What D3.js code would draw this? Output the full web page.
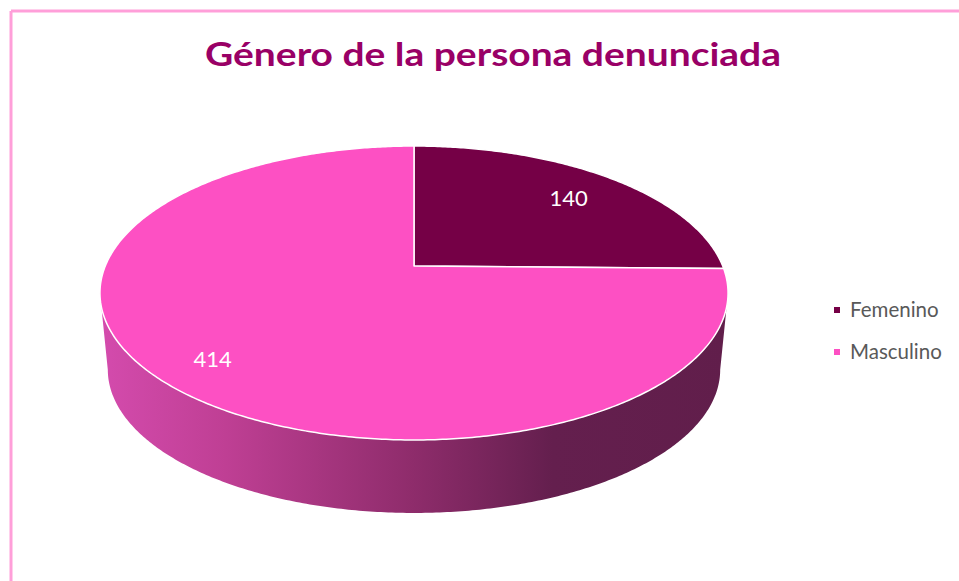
<!DOCTYPE html>
<html><head><meta charset="utf-8">
<script src="https://cdn.jsdelivr.net/npm/d3@7"></script>
<style>html,body{margin:0;padding:0;background:#fff;}svg{display:block;}</style>
</head><body>
<svg id="c" width="959" height="581"></svg>
<script>
const title = "Género de la persona denunciada";
const categories = ["Femenino", "Masculino"];
const values = [140, 414];
const colors = ["#750046", "#fd50c3"];

const svg = d3.select("#c");
const W = 959, H = 581;

// chart frame (only top and left edges visible)
svg.append("line").attr("x1", 11).attr("y1", 11).attr("x2", W).attr("y2", 11)
  .attr("stroke", "#ff9fd9").attr("stroke-width", 3);
svg.append("line").attr("x1", 11).attr("y1", 11).attr("x2", 11).attr("y2", H)
  .attr("stroke", "#ff9fd9").attr("stroke-width", 3);

// title
const t = svg.append("text").attr("x", 493).attr("y", 66).attr("text-anchor", "middle")
  .attr("font-family", "Lato, 'Open Sans', sans-serif").attr("font-weight", "bold")
  .attr("font-size", 33).attr("fill", "#990066").text(title);
const tw = t.node().getComputedTextLength();
if (Math.abs(tw - 576) > 6) t.attr("textLength", 576).attr("lengthAdjust", "spacingAndGlyphs");

// perspective projection of a tilted disk
const cx = 414, cy = 266, A = 308.7, B = 142, k = 0.1837, depth = 73, shrink = 0.975;
function proj(angle, r, level) {
  const u = r * Math.sin(angle), v = r * Math.cos(angle);
  const a = level ? A * shrink : A, b = level ? B * shrink : B;
  const yc = level ? cy + depth + (B - B * shrink) / (1 - k) : cy;
  const d = 1 + k * v;
  return [cx + a * u / d, yc - b * v / d];
}

const pie = d3.pie().sort(null).value(d => d)(values);

function arcPts(a0, a1, r, level) {
  const n = Math.max(2, Math.ceil(Math.abs(a1 - a0) / 0.01));
  return d3.range(n + 1).map(i => proj(a0 + (a1 - a0) * i / n, r, level));
}
const line = d3.line();

// side wall: visible front part between the two widest points
const vAng = Math.acos(-k);
const sideStart = vAng, sideEnd = 2 * Math.PI - vAng;
const defs = svg.append("defs");
const grad = defs.append("linearGradient").attr("id", "sideGrad")
  .attr("gradientUnits", "userSpaceOnUse")
  .attr("x1", cx - A / Math.sqrt(1 - k * k)).attr("x2", cx + A / Math.sqrt(1 - k * k))
  .attr("y1", 0).attr("y2", 0);
[[0, "#d44bad"], [0.2, "#bf3f94"], [0.5, "#8e2c6b"], [0.72, "#641f4e"], [1, "#611e4b"]]
  .forEach(s => grad.append("stop").attr("offset", s[0]).attr("stop-color", s[1]));

const topArc = arcPts(sideStart, sideEnd, 1, 0);
const botArc = arcPts(sideEnd, sideStart, 1, 1);
svg.append("path").attr("d", line(topArc.concat(botArc)) + "Z")
  .attr("fill", "url(#sideGrad)");

// top faces
svg.selectAll("path.slice").data(pie).enter().append("path").attr("class", "slice")
  .attr("d", d => line([[cx, cy]].concat(arcPts(d.startAngle, d.endAngle, 1, 0))) + "Z")
  .attr("fill", (d, i) => colors[i])
  .attr("stroke", "#fff").attr("stroke-width", 1.5).attr("stroke-linejoin", "round");

// data labels
svg.selectAll("text.lbl").data(pie).enter().append("text").attr("class", "lbl")
  .each(function (d) {
    const m = (d.startAngle + d.endAngle) / 2;
    const p = proj(m, 0.8, 0);
    d3.select(this).attr("x", p[0] - 5).attr("y", p[1] + 12);
  })
  .attr("text-anchor", "middle").attr("font-family", "Lato, 'Open Sans', sans-serif")
  .attr("font-size", 22).attr("fill", "#fff").text(d => d.value);

// legend
const lg = svg.append("g");
categories.forEach((c, i) => {
  const y = 310 + i * 42;
  lg.append("rect").attr("x", 834).attr("y", y - 3).attr("width", 6).attr("height", 6).attr("fill", colors[i]);
  lg.append("text").attr("x", 850).attr("y", y + 7).attr("font-family", "Lato, 'Open Sans', sans-serif")
    .attr("font-size", 20.5).attr("fill", "#595959").text(c);
});
</script>
</body></html>
